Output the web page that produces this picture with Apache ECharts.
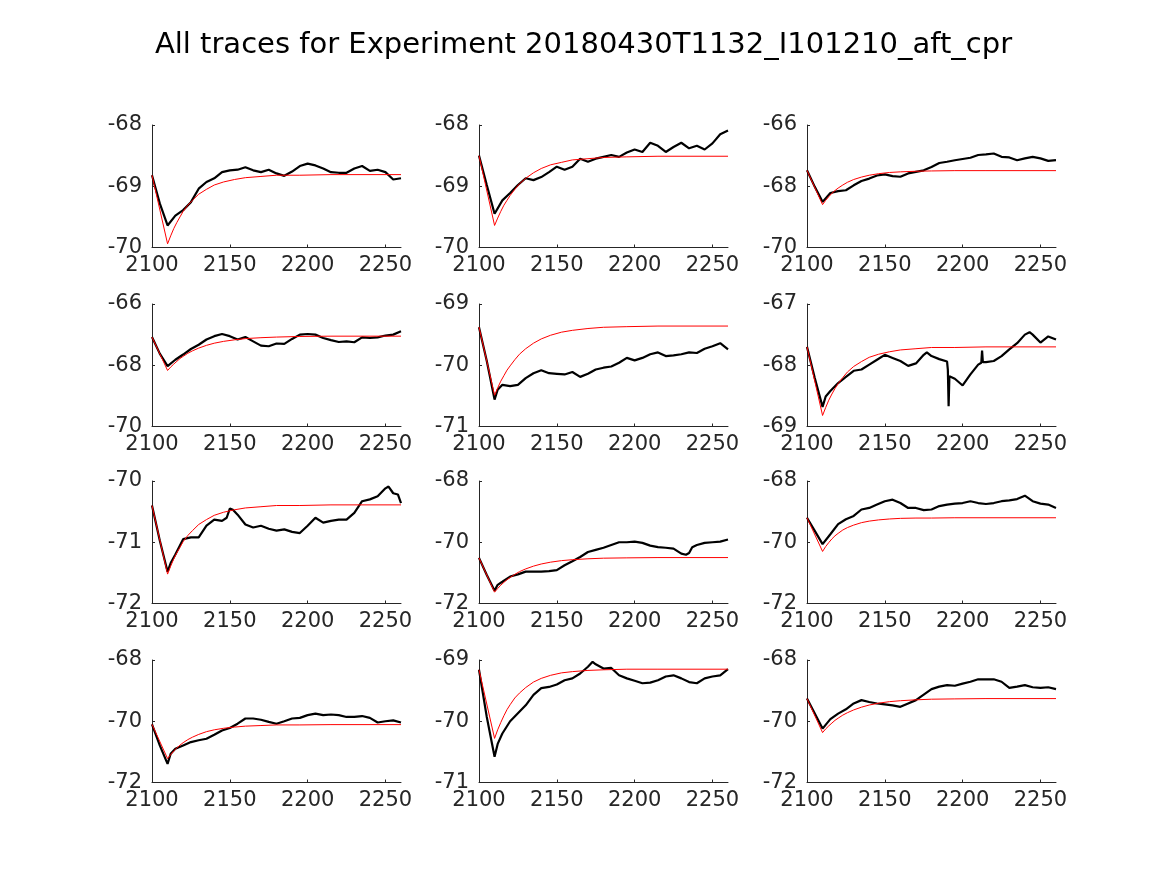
<!DOCTYPE html>
<html>
<head>
<meta charset="utf-8">
<script src="https://cdn.jsdelivr.net/npm/echarts@6/dist/echarts.min.js"></script>
<style>
html,body{margin:0;padding:0;background:#fff;}
#chart{width:1167px;height:875px;}
</style>
</head>
<body>
<div id="chart"></div>
<script>
// ---------- DATA ----------
const titleText = "All traces for Experiment 20180430T1132_I101210_aft_cpr";

// sampling grid of the measured (black) traces
const traceX = [2100,2105,2110,2115,2120,2125,2130,2135,2140,2145,2150,2155,2160,2165,2170,2175,2180,2185,2190,2195,2200,2205,2210,2215,2220,2225,2230,2235,2240,2245,2250,2255,2260];
// sampling grid of the fitted (red) curves
const fitX = [2100,2110,2112,2114,2116,2118,2120,2123,2126,2130,2135,2140,2146,2153,2160,2170,2180,2195,2215,2260];

// y-axis ranges per panel: [min, max, interval]
const yRanges = [
  [-70,-68,1],[-70,-68,1],[-70,-66,2],
  [-70,-66,2],[-71,-69,1],[-69,-67,1],
  [-72,-70,1],[-72,-68,2],[-72,-68,2],
  [-72,-68,2],[-71,-69,1],[-72,-68,2]
];
const xTicks = [2100,2150,2200,2250];

// black traces
const trace1 = [-68.82,-69.28,-69.64,-69.48,-69.39,-69.26,-69.04,-68.93,-68.87,-68.77,-68.74,-68.73,-68.69,-68.74,-68.77,-68.73,-68.79,-68.83,-68.76,-68.67,-68.63,-68.66,-68.71,-68.77,-68.78,-68.78,-68.71,-68.67,-68.75,-68.73,-68.77,-68.89,-68.87];
const trace2 = [-68.50,-68.98,-69.45,-69.23,-69.11,-68.98,-68.87,-68.90,-68.85,-68.77,-68.68,-68.73,-68.68,-68.55,-68.60,-68.55,-68.52,-68.49,-68.52,-68.45,-68.40,-68.44,-68.29,-68.34,-68.44,-68.36,-68.29,-68.38,-68.34,-68.40,-68.30,-68.15,-68.09];
const trace3 = [-67.48,-68.02,-68.51,-68.22,-68.16,-68.13,-67.97,-67.83,-67.75,-67.65,-67.61,-67.67,-67.69,-67.58,-67.53,-67.48,-67.37,-67.24,-67.20,-67.15,-67.11,-67.07,-66.98,-66.96,-66.93,-67.04,-67.06,-67.15,-67.09,-67.04,-67.09,-67.17,-67.15];
const trace4 = [-67.08,-67.62,-68.03,-67.82,-67.65,-67.47,-67.33,-67.16,-67.05,-66.98,-67.05,-67.16,-67.08,-67.22,-67.36,-67.38,-67.29,-67.30,-67.14,-67.00,-66.98,-67.00,-67.11,-67.18,-67.24,-67.22,-67.25,-67.09,-67.11,-67.09,-67.03,-67.00,-66.89];
const trace5 = [-69.38,-69.93,-70.56,-70.32,-70.34,-70.32,-70.21,-70.13,-70.08,-70.13,-70.14,-70.15,-70.11,-70.19,-70.14,-70.07,-70.04,-70.02,-69.96,-69.88,-69.92,-69.88,-69.82,-69.79,-69.85,-69.84,-69.82,-69.79,-69.80,-69.73,-69.69,-69.64,-69.74];
const trace6 = [-67.70,-68.21,-68.68,-68.42,-68.29,-68.19,-68.09,-68.07,-67.99,-67.91,-67.83,-67.88,-67.93,-68.01,-67.97,-67.83,-67.85,-67.90,-67.94,-68.22,-68.33,-68.15,-67.99,-67.95,-67.93,-67.85,-67.74,-67.64,-67.50,-67.50,-67.63,-67.53,-67.58];
const trace7 = [-70.40,-70.97,-71.48,-71.20,-70.95,-70.92,-70.92,-70.73,-70.63,-70.65,-70.45,-70.55,-70.71,-70.76,-70.73,-70.78,-70.81,-70.79,-70.83,-70.85,-70.73,-70.60,-70.68,-70.65,-70.63,-70.63,-70.52,-70.33,-70.30,-70.25,-70.12,-70.20,-70.36];
const trace8 = [-70.51,-71.07,-71.58,-71.29,-71.12,-71.05,-70.96,-70.96,-70.96,-70.94,-70.91,-70.75,-70.62,-70.48,-70.32,-70.25,-70.18,-70.09,-70.00,-70.00,-69.98,-70.02,-70.11,-70.16,-70.18,-70.21,-70.37,-70.35,-70.09,-70.02,-70.00,-69.98,-69.91];
const trace9 = [-69.20,-69.63,-70.06,-69.74,-69.41,-69.25,-69.14,-68.93,-68.88,-68.77,-68.66,-68.61,-68.72,-68.88,-68.88,-68.95,-68.93,-68.82,-68.77,-68.74,-68.72,-68.66,-68.72,-68.75,-68.72,-68.66,-68.63,-68.59,-68.48,-68.66,-68.74,-68.77,-68.88];
const trace10 = [-70.10,-70.79,-71.39,-70.90,-70.79,-70.68,-70.62,-70.57,-70.44,-70.30,-70.22,-70.08,-69.91,-69.91,-69.95,-70.02,-70.08,-70.00,-69.91,-69.89,-69.80,-69.75,-69.80,-69.78,-69.80,-69.86,-69.86,-69.83,-69.89,-70.04,-70.00,-69.97,-70.04];
const trace11 = [-69.16,-69.93,-70.58,-70.20,-70.00,-69.87,-69.74,-69.57,-69.46,-69.44,-69.40,-69.33,-69.30,-69.22,-69.11,-69.07,-69.14,-69.13,-69.25,-69.30,-69.34,-69.38,-69.37,-69.33,-69.27,-69.25,-69.30,-69.36,-69.38,-69.30,-69.27,-69.25,-69.15];
const trace12 = [-69.26,-69.75,-70.24,-69.93,-69.75,-69.61,-69.42,-69.31,-69.37,-69.42,-69.45,-69.48,-69.53,-69.42,-69.31,-69.13,-68.95,-68.87,-68.82,-68.84,-68.77,-68.71,-68.63,-68.63,-68.63,-68.71,-68.91,-68.87,-68.82,-68.89,-68.91,-68.89,-68.95];

// extra trace points (spikes / sharp features): x list and y list per panel
const extraX5 = [2112];            const extraY5 = [-70.40];
const extraX6 = [2112,2177,2190.5,2191,2191.5,2212,2212.5,2213,2243];
const extraY6 = [-68.51,-67.79,-68.07,-68.67,-68.18,-67.96,-67.76,-67.95,-67.46];
const extraX7 = [2112,2148,2152,2252,2258]; const extraY7 = [-71.34,-70.60,-70.47,-70.09,-70.22];
const extraX8 = [2112,2233,2237]; const extraY8 = [-71.39,-70.41,-70.16];
const extraX10 = [2112];          const extraY10 = [-71.06];
const extraX11 = [2112,2173];     const extraY11 = [-70.37,-69.03];

// red fitted curves
const fit1 = [-68.82,-69.94,-69.81,-69.69,-69.59,-69.50,-69.41,-69.31,-69.23,-69.13,-69.05,-68.98,-68.93,-68.89,-68.86,-68.84,-68.82,-68.82,-68.81,-68.81];
const fit2 = [-68.50,-69.64,-69.52,-69.41,-69.31,-69.23,-69.15,-69.05,-68.96,-68.87,-68.78,-68.71,-68.65,-68.61,-68.57,-68.55,-68.53,-68.52,-68.51,-68.51];
const fit3 = [-67.48,-68.60,-68.46,-68.34,-68.23,-68.14,-68.06,-67.96,-67.87,-67.78,-67.70,-67.64,-67.59,-67.55,-67.53,-67.51,-67.50,-67.49,-67.49,-67.49];
const fit4 = [-67.08,-68.17,-68.06,-67.96,-67.87,-67.78,-67.71,-67.61,-67.53,-67.44,-67.35,-67.28,-67.22,-67.17,-67.13,-67.10,-67.08,-67.06,-67.05,-67.05];
const fit5 = [-69.375,-70.49,-70.37,-70.26,-70.17,-70.08,-70.01,-69.91,-69.82,-69.73,-69.64,-69.57,-69.51,-69.46,-69.43,-69.40,-69.38,-69.37,-69.36,-69.36];
const fit6 = [-67.70,-68.82,-68.69,-68.57,-68.47,-68.38,-68.30,-68.20,-68.11,-68.02,-67.94,-67.87,-67.82,-67.78,-67.75,-67.73,-67.71,-67.71,-67.70,-67.70];
const fit7 = [-70.40,-71.52,-71.39,-71.27,-71.17,-71.08,-70.99,-70.89,-70.81,-70.71,-70.63,-70.56,-70.51,-70.47,-70.44,-70.42,-70.40,-70.40,-70.39,-70.39];
const fit8 = [-70.51,-71.63,-71.51,-71.40,-71.31,-71.22,-71.15,-71.05,-70.96,-70.87,-70.78,-70.71,-70.65,-70.60,-70.57,-70.54,-70.52,-70.51,-70.50,-70.50];
const fit9 = [-69.20,-70.30,-70.14,-70.01,-69.89,-69.79,-69.71,-69.60,-69.52,-69.44,-69.36,-69.31,-69.27,-69.24,-69.22,-69.21,-69.21,-69.20,-69.20,-69.20];
const fit10 = [-70.10,-71.22,-71.09,-70.97,-70.87,-70.78,-70.70,-70.60,-70.52,-70.43,-70.34,-70.28,-70.23,-70.19,-70.16,-70.14,-70.12,-70.12,-70.11,-70.11];
const fit11 = [-69.16,-70.28,-70.14,-70.02,-69.91,-69.81,-69.73,-69.62,-69.54,-69.45,-69.36,-69.30,-69.25,-69.21,-69.19,-69.17,-69.16,-69.15,-69.15,-69.15];
const fit12 = [-69.26,-70.37,-70.25,-70.15,-70.06,-69.97,-69.90,-69.80,-69.72,-69.63,-69.54,-69.47,-69.41,-69.36,-69.33,-69.30,-69.28,-69.27,-69.26,-69.26];

// ---------- BUILD ----------
const traces = [trace1,trace2,trace3,trace4,trace5,trace6,trace7,trace8,trace9,trace10,trace11,trace12];
const fits = [fit1,fit2,fit3,fit4,fit5,fit6,fit7,fit8,fit9,fit10,fit11,fit12];
const extras = {4:[extraX5,extraY5],5:[extraX6,extraY6],6:[extraX7,extraY7],7:[extraX8,extraY8],9:[extraX10,extraY10],10:[extraX11,extraY11]};

const colLeft = [152, 479, 807];
const rowTop = [125, 304, 481, 660];
const W = 249, H = 122.5;
const txt = '#262626';
const font = 'DejaVu Sans';

const grids = [], xAxes = [], yAxes = [], series = [];
for (let i = 0; i < 12; i++) {
  const r = Math.floor(i / 3), c = i % 3;
  grids.push({left: colLeft[c], top: rowTop[r], width: W, height: H, containLabel: false});
  xAxes.push({
    type: 'value', gridIndex: i, min: 2100, max: 2260, interval: 50,
    axisLine: {show: true, onZero: false, lineStyle: {color: txt, width: 1}},
    axisTick: {show: true, inside: true, length: 3, lineStyle: {color: txt}},
    splitLine: {show: false},
    axisLabel: {color: txt, fontSize: 21, fontFamily: font, margin: 8, showMaxLabel: false,
      formatter: v => xTicks.indexOf(v) >= 0 ? String(v) : ''}
  });
  const yr = yRanges[i];
  yAxes.push({
    type: 'value', gridIndex: i, min: yr[0], max: yr[1], interval: yr[2],
    axisLine: {show: true, onZero: false, lineStyle: {color: txt, width: 1}},
    axisTick: {show: true, inside: true, length: 3, lineStyle: {color: txt}},
    splitLine: {show: false},
    axisLabel: {color: txt, fontSize: 21, fontFamily: font, margin: 10}
  });
  let pts = traceX.map((x, k) => [x, traces[i][k]]);
  if (extras[i]) {
    const [ex, ey] = extras[i];
    ex.forEach((x, k) => pts.push([x, ey[k]]));
    pts.sort((a, b) => a[0] - b[0]);
  }
  series.push({
    type: 'line', xAxisIndex: i, yAxisIndex: i, data: pts, showSymbol: false,
    lineStyle: {color: '#000000', width: 2.2}, silent: true, z: 2
  });
  series.push({
    type: 'line', xAxisIndex: i, yAxisIndex: i, data: fitX.map((x, k) => [x, fits[i][k]]),
    showSymbol: false, lineStyle: {color: '#ff0000', width: 1}, silent: true, z: 3
  });
}

const chart = echarts.init(document.getElementById('chart'), null, {renderer: 'canvas'});
chart.setOption({
  backgroundColor: '#ffffff',
  animation: false,
  title: {text: titleText, left: 'center', top: 26,
    textStyle: {color: '#000000', fontSize: 29, fontWeight: 'normal', fontFamily: font}},
  grid: grids, xAxis: xAxes, yAxis: yAxes, series: series
});
</script>
</body>
</html>
